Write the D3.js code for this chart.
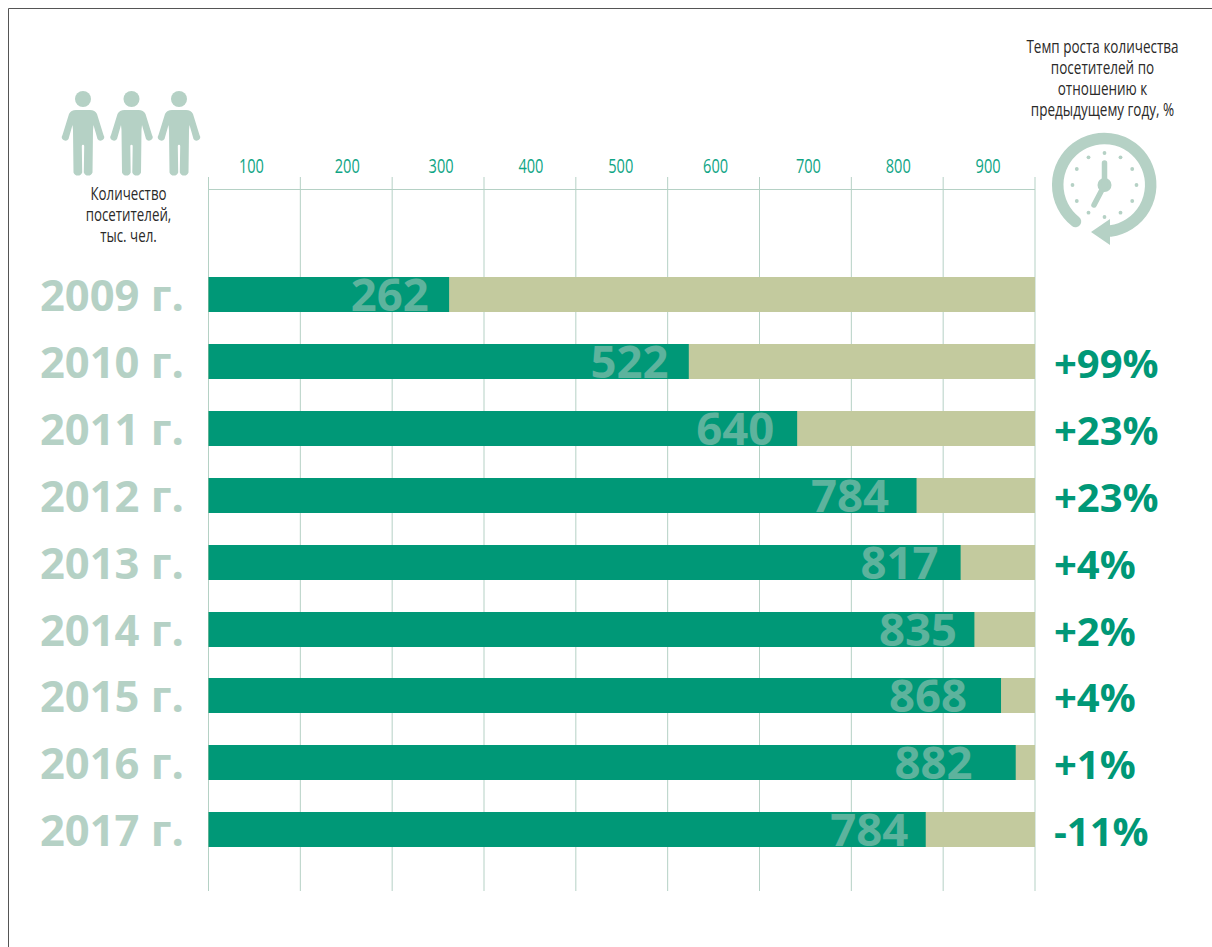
<!DOCTYPE html>
<html><head><meta charset="utf-8">
<script src="https://cdn.jsdelivr.net/npm/d3@7"></script>
<style>
html,body{margin:0;padding:0;background:#fff;overflow:hidden}
svg{display:block}
text{font-family:"Open Sans",sans-serif}
</style></head><body>
<svg id="c" width="1212" height="947"></svg>
<script>
const years = ["2009 г.","2010 г.","2011 г.","2012 г.","2013 г.","2014 г.","2015 г.","2016 г.","2017 г."];
const barValues = [262,523,641,771,819,834,863,879,781];
const valueLabels = ["262","522","640","784","817","835","868","882","784"];
const labelEnds = [240,501,616,741,795,815,826,832,762];
const growth = ["","+99%","+23%","+23%","+4%","+2%","+4%","+1%","-11%"];
const ticks = [100,200,300,400,500,600,700,800,900];
const leftTitle = ["Количество","посетителей,","тыс. чел."];
const rightTitle = ["Темп роста количества","посетителей по","отношению к","предыдущему году, %"];

const GREEN="#009877", BEIGE="#c3ca9e", PALE="#b5d1c5", TICK="#0fa585", LABEL="#5db39d", INK="#2b2a29";
const svg=d3.select("#c");
const x=d3.scaleLinear().domain([0,900]).range([208.5,1035]);
const y=d3.scaleBand().domain(years).range([261,863]).paddingInner(32/67).paddingOuter(16/67);
const bh=35;
const by=d=>Math.round(y(d)+y.bandwidth()/2-bh/2+0.2);
const tickNudge=[-3,1,3,1,-1,2,3,1,-1];

// frame
svg.append("path").attr("d","M8.5,947V8.5H1212").attr("fill","none").attr("stroke","#555").attr("stroke-width",1);

// grid
const grid=svg.append("g").attr("stroke",PALE).attr("stroke-width",1);
grid.selectAll("line.v").data([0,...ticks]).join("line").attr("class","v")
  .attr("x1",d=>x(d)).attr("x2",d=>x(d)).attr("y1",177).attr("y2",891);
grid.append("line").attr("x1",x(0)).attr("x2",x(900)).attr("y1",189.5).attr("y2",189.5);

// tick labels, centred in the band that ends at each tick
svg.append("g").selectAll("text").data(ticks).join("text")
  .attr("transform",(d,i)=>`translate(${x(d-50)+tickNudge[i]},173) scale(.73,1)`)
  .attr("text-anchor","middle").attr("font-size",20).attr("fill",TICK).text(d=>d);

// bars
const rows=svg.append("g").selectAll("g").data(years).join("g");
rows.append("rect").attr("x",x(0)).attr("y",d=>by(d)).attr("height",bh)
  .attr("width",x(900)-x(0)).attr("fill",BEIGE);
rows.append("rect").attr("x",x(0)).attr("y",d=>by(d)).attr("height",bh)
  .attr("width",(d,i)=>x(barValues[i])-x(0)).attr("fill",GREEN);
rows.append("text").attr("x",(d,i)=>x(labelEnds[i])).attr("y",d=>by(d)+bh-1)
  .attr("text-anchor","end").attr("font-size",45.5).attr("font-weight",700).attr("fill",LABEL)
  .text((d,i)=>valueLabels[i]);
rows.append("text").attr("x",184).attr("y",d=>by(d)+bh-1)
  .attr("text-anchor","end").attr("font-size",43.5).attr("font-weight",700).attr("fill",PALE).text(d=>d);
rows.append("text").attr("x",1054).attr("y",d=>by(d)+bh-1)
  .attr("font-size",40).attr("font-weight",700).attr("fill",GREEN).text((d,i)=>growth[i]);

// titles
const lines=(arr,cx,y0,dy,sx)=>svg.append("g").selectAll("text").data(arr).join("text")
  .attr("transform",(d,i)=>`translate(${cx},${y0+i*dy}) scale(${sx},1)`)
  .attr("text-anchor","middle").attr("font-size",18.5).attr("fill",INK).text(d=>d);
lines(leftTitle,128.5,200,21,.72);
lines(rightTitle,1102.5,53,21,.73);

// people
[83,131.5,179].forEach(cx=>{
  const g=svg.append("g").attr("transform",`translate(${cx},0)`).attr("fill",PALE);
  g.append("circle").attr("cy",99).attr("r",8);
  g.append("path").attr("d","M-7,110H7Q12,110 14,114L20.5,135A3.2,3.2 0 0 1 14.5,139L10.5,125L10,130L9.5,172.5A4.6,4.6 0 0 1 0.8,172.5L1.2,146A1.2,1.2 0 0 0 -1.2,146L-0.8,172.5A4.6,4.6 0 0 1 -9.5,172.5L-10,130L-10.5,125L-14.5,139A3.2,3.2 0 0 1 -20.5,135L-14,114Q-12,110 -7,110Z");
});

// clock
const c=svg.append("g").attr("transform","translate(1104.5,185)");
const R=46.5;
c.append("path").attr("d",`M-29,36.5A${R},${R} 0 1 1 6,46`).attr("fill","none")
  .attr("stroke",PALE).attr("stroke-width",11.5).attr("stroke-linecap","round");
c.append("path").attr("d","M-13.5,47L5.5,34V60Z").attr("fill",PALE);
d3.range(12).forEach(i=>{
  const a=i*Math.PI/6;
  c.append("circle").attr("cx",32*Math.sin(a)).attr("cy",-32*Math.cos(a)).attr("r",1.9).attr("fill",PALE);
});
c.append("circle").attr("r",7).attr("fill",PALE);
c.append("path").attr("d","M0,0V-22M0,0L-10.5,20").attr("stroke",PALE).attr("stroke-width",5.5).attr("stroke-linecap","round").attr("fill","none");
</script></body></html>
